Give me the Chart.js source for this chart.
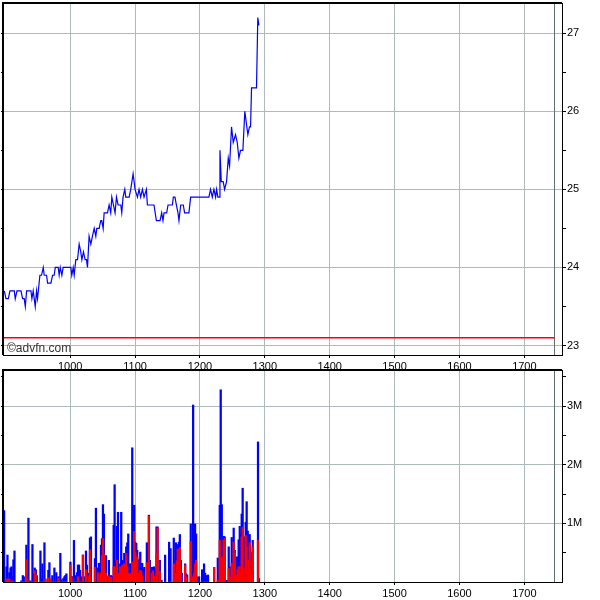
<!DOCTYPE html>
<html>
<head>
<meta charset="utf-8">
<script src="https://cdn.jsdelivr.net/npm/chart.js@4.4.0/dist/chart.umd.min.js"></script>
<style>
  body { margin: 0; background: #fff; }
  #wrap { position: relative; width: 600px; height: 600px; }
  canvas { position: absolute; left: 0; }
</style>
</head>
<body>
<div id="wrap">
  <canvas id="priceChart" width="600" height="375" style="top:0"></canvas>
  <canvas id="volChart" width="600" height="240" style="top:360px"></canvas>
</div>
<script>
// time is minutes since midnight (600 = 10:00)
const X_MIN = 538.8;
const X_MAX = 1054.8;
const CLOSE_LINE = 1048;
const HOUR_TICKS = [600, 660, 720, 780, 840, 900, 960, 1020];
const PRICE_TICKS = [23, 23.5, 24, 24.5, 25, 25.5, 26, 26.5, 27];
const VOL_TICKS = [0.5, 1, 1.5, 2, 2.5, 3, 3.5];
const PREV_CLOSE = 23.1;

const priceTimes = [539.1, 540.6, 542.8, 544.3, 548.3, 549.2, 550.8, 554.5, 556.0, 557.5, 558.5, 559.7,
  563.7, 564.6, 565.8, 567.7, 568.9, 569.8, 572.0, 573.5, 575.1, 576.0, 578.2, 579.1, 582.2, 583.7,
  585.2, 586.2, 588.9, 589.8, 590.8, 592.3, 593.5, 600.6, 601.5, 602.8, 603.7, 605.2, 606.8, 608.3,
  609.8, 610.8, 612.3, 613.8, 615.1, 616.0, 617.5, 619.1, 620.6, 622.2, 623.7, 624.6, 626.8, 628.3,
  629.2, 630.5, 631.4, 634.5, 636.0, 637.5, 638.5, 640.0, 641.5, 642.8, 644.3, 646.8, 647.7, 648.9,
  650.5, 651.4, 654.5, 656.0, 658.2, 660.0, 662.2, 663.7, 665.2, 666.8, 668.3, 670.5, 671.4, 677.5,
  679.7, 683.1, 684.6, 685.8, 686.8, 689.2, 690.5, 694.5, 695.4, 696.9, 698.2, 699.7, 700.6, 702.2,
  704.6, 705.8, 709.8, 711.4, 728.3, 729.8, 731.4, 732.9, 734.5, 735.4, 736.6, 738.2, 738.5, 739.7,
  741.5, 742.8, 744.6, 746.2, 747.4, 749.2, 750.8, 752.9, 754.5, 756.0, 757.5, 759.7, 761.5, 764.3,
  765.8, 766.8, 767.7, 772.3, 773.5, 774.5];
const prices = [23.7, 23.6, 23.6, 23.7, 23.7, 23.6, 23.7, 23.7, 23.6, 23.6, 23.5, 23.7,
  23.7, 23.6, 23.7, 23.5, 23.7, 23.6, 23.9, 23.9, 24.0, 23.9, 23.9, 23.8, 23.8, 23.9,
  23.9, 24.0, 24.0, 23.9, 24.0, 23.9, 24.0, 24.0, 23.9, 24.0, 23.9, 24.1, 24.1, 24.3,
  24.2, 24.1, 24.2, 24.1, 24.1, 24.0, 24.4, 24.3, 24.4, 24.5, 24.4, 24.5, 24.5, 24.6,
  24.6, 24.5, 24.7, 24.7, 24.8, 24.7, 24.9, 24.8, 24.7, 24.9, 24.8, 24.8, 24.7, 24.9,
  25.0, 24.9, 24.9, 25.0, 25.2, 25.0, 24.9, 25.0, 24.9, 25.0, 24.9, 25.0, 24.8, 24.8,
  24.6, 24.6, 24.7, 24.6, 24.7, 24.7, 24.8, 24.8, 24.9, 24.9, 24.8, 24.7, 24.6, 24.8,
  24.8, 24.7, 24.7, 24.9, 24.9, 25.0, 24.9, 25.0, 24.9, 25.0, 24.9, 24.9, 25.5, 25.1,
  25.1, 25.0, 25.1, 25.4, 25.3, 25.8, 25.6, 25.7, 25.6, 25.4, 25.5, 25.5, 26.0, 25.7,
  25.8, 25.8, 26.3, 26.3, 27.2, 27.1];

// volume in millions: total bar height and the red part at its base
const volTimes = [538.9, 541.1, 542.0, 543.8, 544.8, 545.7, 546.6, 547.5, 548.5, 554.9, 556.2, 557.1,
  559.5, 560.5, 561.4, 563.2, 565.1, 566.0, 567.2, 568.2, 569.1, 572.5, 573.4, 574.3, 576.2, 577.1,
  579.8, 580.8, 581.7, 583.5, 585.4, 587.2, 589.1, 590.9, 591.8, 593.7, 594.6, 595.5, 596.5, 600.2,
  601.1, 602.0, 603.5, 604.5, 605.4, 606.3, 607.2, 608.2, 609.1, 610.0, 611.8, 612.8, 614.6, 615.5,
  617.4, 618.3, 619.2, 622.9, 623.8, 625.7, 626.6, 627.5, 628.5, 629.4, 630.3, 631.2, 632.2, 633.1,
  634.9, 635.8, 636.8, 637.7, 638.6, 640.2, 641.1, 642.0, 643.2, 644.2, 645.1, 646.3, 647.2, 648.2,
  649.1, 650.0, 650.9, 651.8, 652.8, 653.7, 654.6, 655.5, 656.5, 657.4, 658.3, 659.2, 660.2, 661.1,
  662.0, 662.9, 663.8, 664.8, 665.7, 666.6, 667.5, 668.5, 670.9, 671.8, 672.8, 673.7, 675.5, 676.5,
  677.4, 678.6, 679.8, 680.8, 681.7, 682.9, 684.5, 687.8, 691.5, 692.8, 695.8, 696.8, 697.7, 698.6,
  699.5, 700.5, 701.4, 702.3, 703.2, 706.3, 707.2, 708.2, 711.5, 713.7, 714.6, 715.5, 716.5, 717.4,
  719.2, 722.0, 723.8, 724.8, 726.6, 727.5, 733.1, 736.5, 738.3, 739.2, 740.2, 741.1, 742.0, 742.9,
  744.8, 746.6, 747.5, 749.4, 750.3, 751.2, 752.2, 754.0, 754.9, 755.8, 756.8, 757.7, 758.6, 759.5,
  760.5, 761.4, 762.3, 763.2, 764.2, 765.1, 766.0, 766.9, 767.8, 768.8, 773.7, 774.6];
const volTotal = [1.22, 0.26, 0.46, 0.16, 0.24, 0.26, 0.09, 0.38, 0.53, 0.02, 0.11, 0.09,
  0.63, 0.11, 1.09, 0.02, 0.64, 0.14, 0.24, 0.21, 0.11, 0.53, 0.05, 0.31, 0.67, 0.05,
  0.20, 0.33, 0.05, 0.11, 0.24, 0.16, 0.09, 0.49, 0.04, 0.06, 0.09, 0.11, 0.14, 0.34,
  0.09, 0.09, 0.71, 0.09, 0.11, 0.16, 0.29, 0.29, 0.20, 0.09, 0.46, 0.09, 0.53, 0.29,
  0.15, 0.75, 0.77, 0.40, 1.26, 0.24, 0.32, 0.20, 0.63, 0.74, 1.32, 1.16, 0.32, 0.45,
  0.09, 0.37, 0.10, 0.11, 0.10, 0.97, 1.66, 0.37, 0.95, 1.19, 0.23, 0.31, 1.19, 0.37,
  0.33, 0.49, 0.37, 0.60, 0.67, 0.82, 0.23, 0.31, 0.31, 2.29, 0.99, 1.31, 0.68, 0.66,
  0.54, 0.23, 0.38, 0.51, 0.23, 0.32, 0.21, 0.25, 0.67, 0.18, 1.14, 0.37, 0.25, 0.25,
  0.26, 0.23, 0.94, 0.94, 0.12, 0.37, 0.03, 0.46, 0.68, 0.57, 0.75, 0.06, 0.67, 0.53,
  0.64, 0.68, 0.81, 0.37, 0.15, 0.31, 0.14, 0.12, 0.99, 3.02, 0.91, 0.99, 0.82, 0.09,
  0.09, 0.21, 0.31, 0.15, 0.11, 0.12, 0.25, 0.41, 1.31, 3.28, 1.32, 0.03, 0.78, 0.77,
  0.03, 0.60, 0.26, 0.76, 0.12, 0.92, 0.54, 0.43, 0.42, 0.72, 0.95, 0.82, 1.16, 1.60,
  0.77, 0.37, 1.02, 1.37, 0.87, 0.80, 0.81, 0.37, 0.51, 0.71, 2.39, 0.06];
const volRed = [0, 0.05, 0.05, 0.05, 0, 0, 0.02, 0, 0, 0, 0, 0,
  0.38, 0.05, 0, 0, 0, 0, 0.19, 0.12, 0, 0, 0, 0, 0, 0.05,
  0.07, 0, 0.05, 0, 0, 0, 0.06, 0, 0, 0, 0, 0, 0, 0.29,
  0.09, 0, 0, 0, 0, 0, 0.09, 0, 0, 0, 0.46, 0, 0.21, 0,
  0.10, 0.55, 0, 0.25, 0, 0.16, 0.10, 0, 0.16, 0.45, 0.74, 0.47, 0.10, 0.15,
  0, 0.10, 0, 0.08, 0, 0.26, 0.26, 0.12, 0.37, 0.15, 0.10, 0.26, 0.20, 0.29,
  0.06, 0.31, 0.12, 0.49, 0.26, 0.15, 0.10, 0.15, 0.12, 0.34, 0, 0.86, 0.51, 0.19,
  0.43, 0.12, 0.16, 0.20, 0.18, 0.10, 0, 0, 0.33, 0.15, 1.12, 0, 0.15, 0.19,
  0.10, 0, 0.49, 0.92, 0, 0.18, 0, 0, 0, 0, 0.31, 0, 0.15, 0.36,
  0.56, 0.15, 0.59, 0.15, 0, 0.29, 0.09, 0, 0.69, 0.09, 0.15, 0.31, 0.37, 0,
  0, 0, 0, 0, 0, 0, 0.25, 0.03, 0.71, 0.26, 0.43, 0, 0.71, 0.74,
  0, 0.23, 0.09, 0.32, 0, 0.68, 0.49, 0.12, 0.21, 0.26, 0.26, 0.15, 0.77, 0.93,
  0.23, 0.09, 0.79, 0.60, 0.20, 0.37, 0.67, 0.20, 0.12, 0.60, 0.71, 0];

const GRID = 'rgb(172,186,186)';
const GRID_DARK = 'rgb(95,110,110)';

Chart.defaults.font.family = "'Liberation Sans', Arial, sans-serif";
Chart.defaults.font.size = 11;
Chart.defaults.color = '#000';

function hhmm(v) {
  return String(Math.floor(v / 60) * 100 + Math.round(v % 60));
}

const framePlugin = {
  id: 'frame',
  afterDraw(chart) {
    const {ctx, chartArea: a} = chart;
    ctx.save();
    ctx.strokeStyle = '#000';
    ctx.lineWidth = 1;
    ctx.strokeRect(a.left - 0.5, a.top - 0.5, a.right - a.left + 1, a.bottom - a.top + 1);
    ctx.lineWidth = 2;
    ctx.beginPath();
    ctx.moveTo(a.left - 1, a.bottom);
    ctx.lineTo(a.left - 1, a.top - 1);
    ctx.lineTo(a.right, a.top - 1);
    ctx.stroke();
    if (chart.options.plugins.frame && chart.options.plugins.frame.watermark) {
      ctx.fillStyle = '#333';
      ctx.font = "12px 'Liberation Sans', Arial, sans-serif";
      ctx.textBaseline = 'alphabetic';
      ctx.fillText(chart.options.plugins.frame.watermark, a.left + 3, a.bottom - 3);
    }
    ctx.restore();
  }
};

function noEdgePadding(axis) {
  axis.paddingTop = 0;
  axis.paddingBottom = 0;
  axis.paddingLeft = 0;
  axis.paddingRight = 0;
}

function xScale(height) {
  return {
    type: 'linear',
    min: X_MIN,
    max: X_MAX,
    offset: false,
    afterBuildTicks: axis => { axis.ticks = HOUR_TICKS.concat([CLOSE_LINE]).map(v => ({value: v})); },
    afterFit: axis => { axis.height = height; noEdgePadding(axis); },
    border: {display: false},
    grid: {
      offset: false,
      color: c => (c.tick && c.tick.value === CLOSE_LINE) ? GRID_DARK : GRID,
      tickColor: c => (c.tick && c.tick.value === CLOSE_LINE) ? 'transparent' : '#000',
      tickLength: 3
    },
    ticks: {
      autoSkip: false, maxRotation: 0, padding: 2,
      callback: v => v === CLOSE_LINE ? '' : hhmm(v)
    }
  };
}

function yScales(min, max, tickList, fmt) {
  return {
    y: {
      position: 'right',
      min: min, max: max,
      afterBuildTicks: axis => { axis.ticks = tickList.map(v => ({value: v})); },
      afterFit: axis => { axis.width = 38; noEdgePadding(axis); },
      border: {display: false},
      grid: {
        color: c => (c.tick && Number.isInteger(c.tick.value)) ? GRID : 'transparent',
        tickColor: '#000',
        tickLength: 4
      },
      ticks: {padding: 1, callback: v => Number.isInteger(v) ? fmt(v) : ''}
    },
    yl: {
      position: 'left',
      min: min, max: max,
      afterBuildTicks: axis => { axis.ticks = tickList.map(v => ({value: v})); },
      afterFit: axis => { axis.width = 4; noEdgePadding(axis); },
      border: {display: false},
      grid: {drawOnChartArea: false, tickColor: '#000', tickLength: 3},
      ticks: {display: false}
    }
  };
}

const priceScales = yScales(22.879, 27.374, PRICE_TICKS, v => String(v));
priceScales.x = xScale(20);

new Chart(document.getElementById('priceChart'), {
  type: 'line',
  data: {
    datasets: [
      {
        data: priceTimes.map((t, i) => ({x: t, y: prices[i]})),
        borderColor: '#0000ff',
        borderWidth: 1.2,
        pointRadius: 0,
        tension: 0,
        yAxisID: 'y'
      },
      {
        data: [{x: X_MIN, y: PREV_CLOSE}, {x: CLOSE_LINE, y: PREV_CLOSE}],
        borderColor: '#ff0000',
        borderWidth: 1.5,
        pointRadius: 0,
        yAxisID: 'y'
      }
    ]
  },
  options: {
    responsive: false,
    animation: false,
    devicePixelRatio: 1,
    layout: {padding: {left: 0, top: 4, right: 0, bottom: 0}},
    plugins: {legend: {display: false}, tooltip: {enabled: false}, frame: {watermark: '©advfn.com'}},
    scales: priceScales
  },
  plugins: [framePlugin]
});

const volScales = yScales(0, 3.6, VOL_TICKS, v => v + 'M');
volScales.x = xScale(18);

new Chart(document.getElementById('volChart'), {
  type: 'bar',
  data: {
    datasets: [
      {
        data: volTimes.map((t, i) => ({x: t, y: volTotal[i]})),
        backgroundColor: '#0000ff',
        barThickness: 1.6,
        grouped: false,
        order: 2,
        yAxisID: 'y'
      },
      {
        data: volTimes.map((t, i) => ({x: t, y: volRed[i]})),
        backgroundColor: '#ff0000',
        barThickness: 1.6,
        grouped: false,
        order: 1,
        yAxisID: 'y'
      }
    ]
  },
  options: {
    responsive: false,
    animation: false,
    devicePixelRatio: 1,
    layout: {padding: {left: 0, top: 11, right: 0, bottom: 0}},
    plugins: {legend: {display: false}, tooltip: {enabled: false}},
    scales: volScales
  },
  plugins: [framePlugin]
});
</script>
</body>
</html>
